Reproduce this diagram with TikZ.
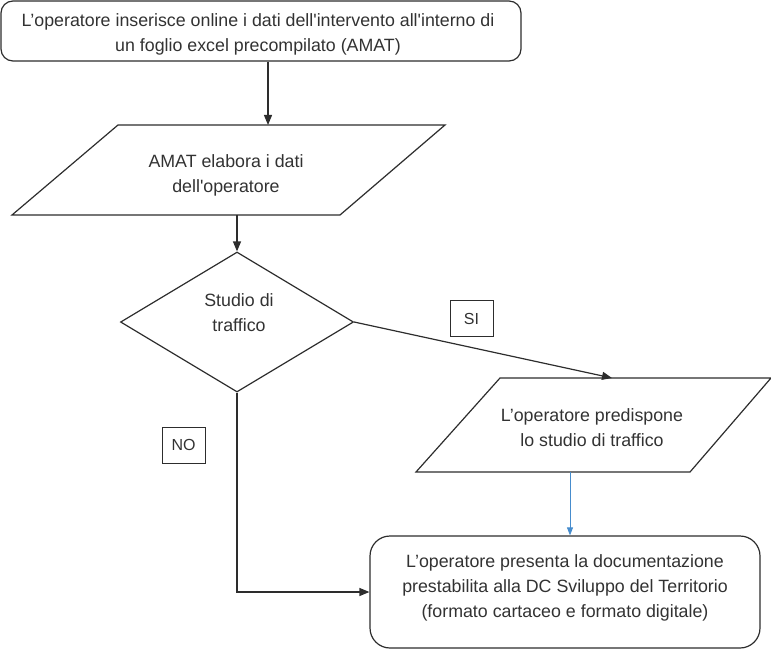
\documentclass[tikz,border=0pt]{standalone}
\usepackage{fontspec}
\setmainfont{Liberation Sans}[Ligatures=TeXOff]
\usetikzlibrary{arrows.meta,shapes.geometric}
\definecolor{ink}{RGB}{45,45,45}
\definecolor{txt}{RGB}{50,50,50}
\definecolor{blu}{RGB}{70,140,205}
\begin{document}
\begin{tikzpicture}[x=1pt,y=-1pt,
  line width=1.2pt, draw=ink,
  every node/.style={text=txt, font=\fontsize{17.8}{25}\selectfont, align=center, inner sep=0pt},
  rbox/.style={draw=ink, rounded corners=#1},
  lbl/.style={draw=ink, line width=0.9pt, minimum width=43pt, minimum height=36pt, inner sep=0pt, font=\fontsize{16}{18}\selectfont},
  arr/.style={draw=ink, -{Triangle[length=10pt,width=8pt]}},
  barr/.style={draw=blu, line width=0.8pt, -{Triangle[length=8pt,width=6pt]}}]
\useasboundingbox (0,0) rectangle (771,650);
% box 1
\node[rbox=12pt, minimum width=520pt, minimum height=60pt] (b1) at (261,31) {};
\node (b1t) at (258,34)
  {L’operatore inserisce online i dati dell'intervento all'interno di\\un foglio excel precompilato (AMAT)};
% parallelogram 1
\draw (118,125) -- (445,125) -- (340,215) -- (12,215) -- cycle;
\coordinate (p1top) at (268,125);
\coordinate (p1bot) at (237,215);
\node (p1) at (226,175) {AMAT elabora i dati\\dell'operatore};
% diamond
\node[diamond, draw=ink, minimum width=233pt, minimum height=140pt] (d) at (237,322) {};
\node (dt) at (239,313) {Studio di\\traffico};
% parallelogram 2
\draw (500,378) -- (771,378) -- (690,472) -- (416,472) -- cycle;
\coordinate (p2top) at (612,378);
\coordinate (p2bot) at (570,472);
\node (p2) at (592,428) {L’operatore predispone\\lo studio di traffico};
% final box
\node[rbox=20pt, minimum width=390pt, minimum height=112pt] (f) at (565,592) {};
\node (ft) at (565,588) {L’operatore presenta la documentazione\\prestabilita alla DC Sviluppo del Territorio\\(formato cartaceo e formato digitale)};
% labels
\node[lbl] (si) at (471.5,318.5) {SI};
\node[lbl] (no) at (183.5,445) {NO};
% connectors
\draw[arr] (b1.south -| p1top) -- (p1top);
\draw[arr] (p1bot) -- (d.north);
\draw[arr] (d.east) -- (p2top);
\draw[barr] (p2bot) -- (p2bot |- f.north);
\draw[arr] (d.south) |- (f.west);
\end{tikzpicture}
\end{document}
